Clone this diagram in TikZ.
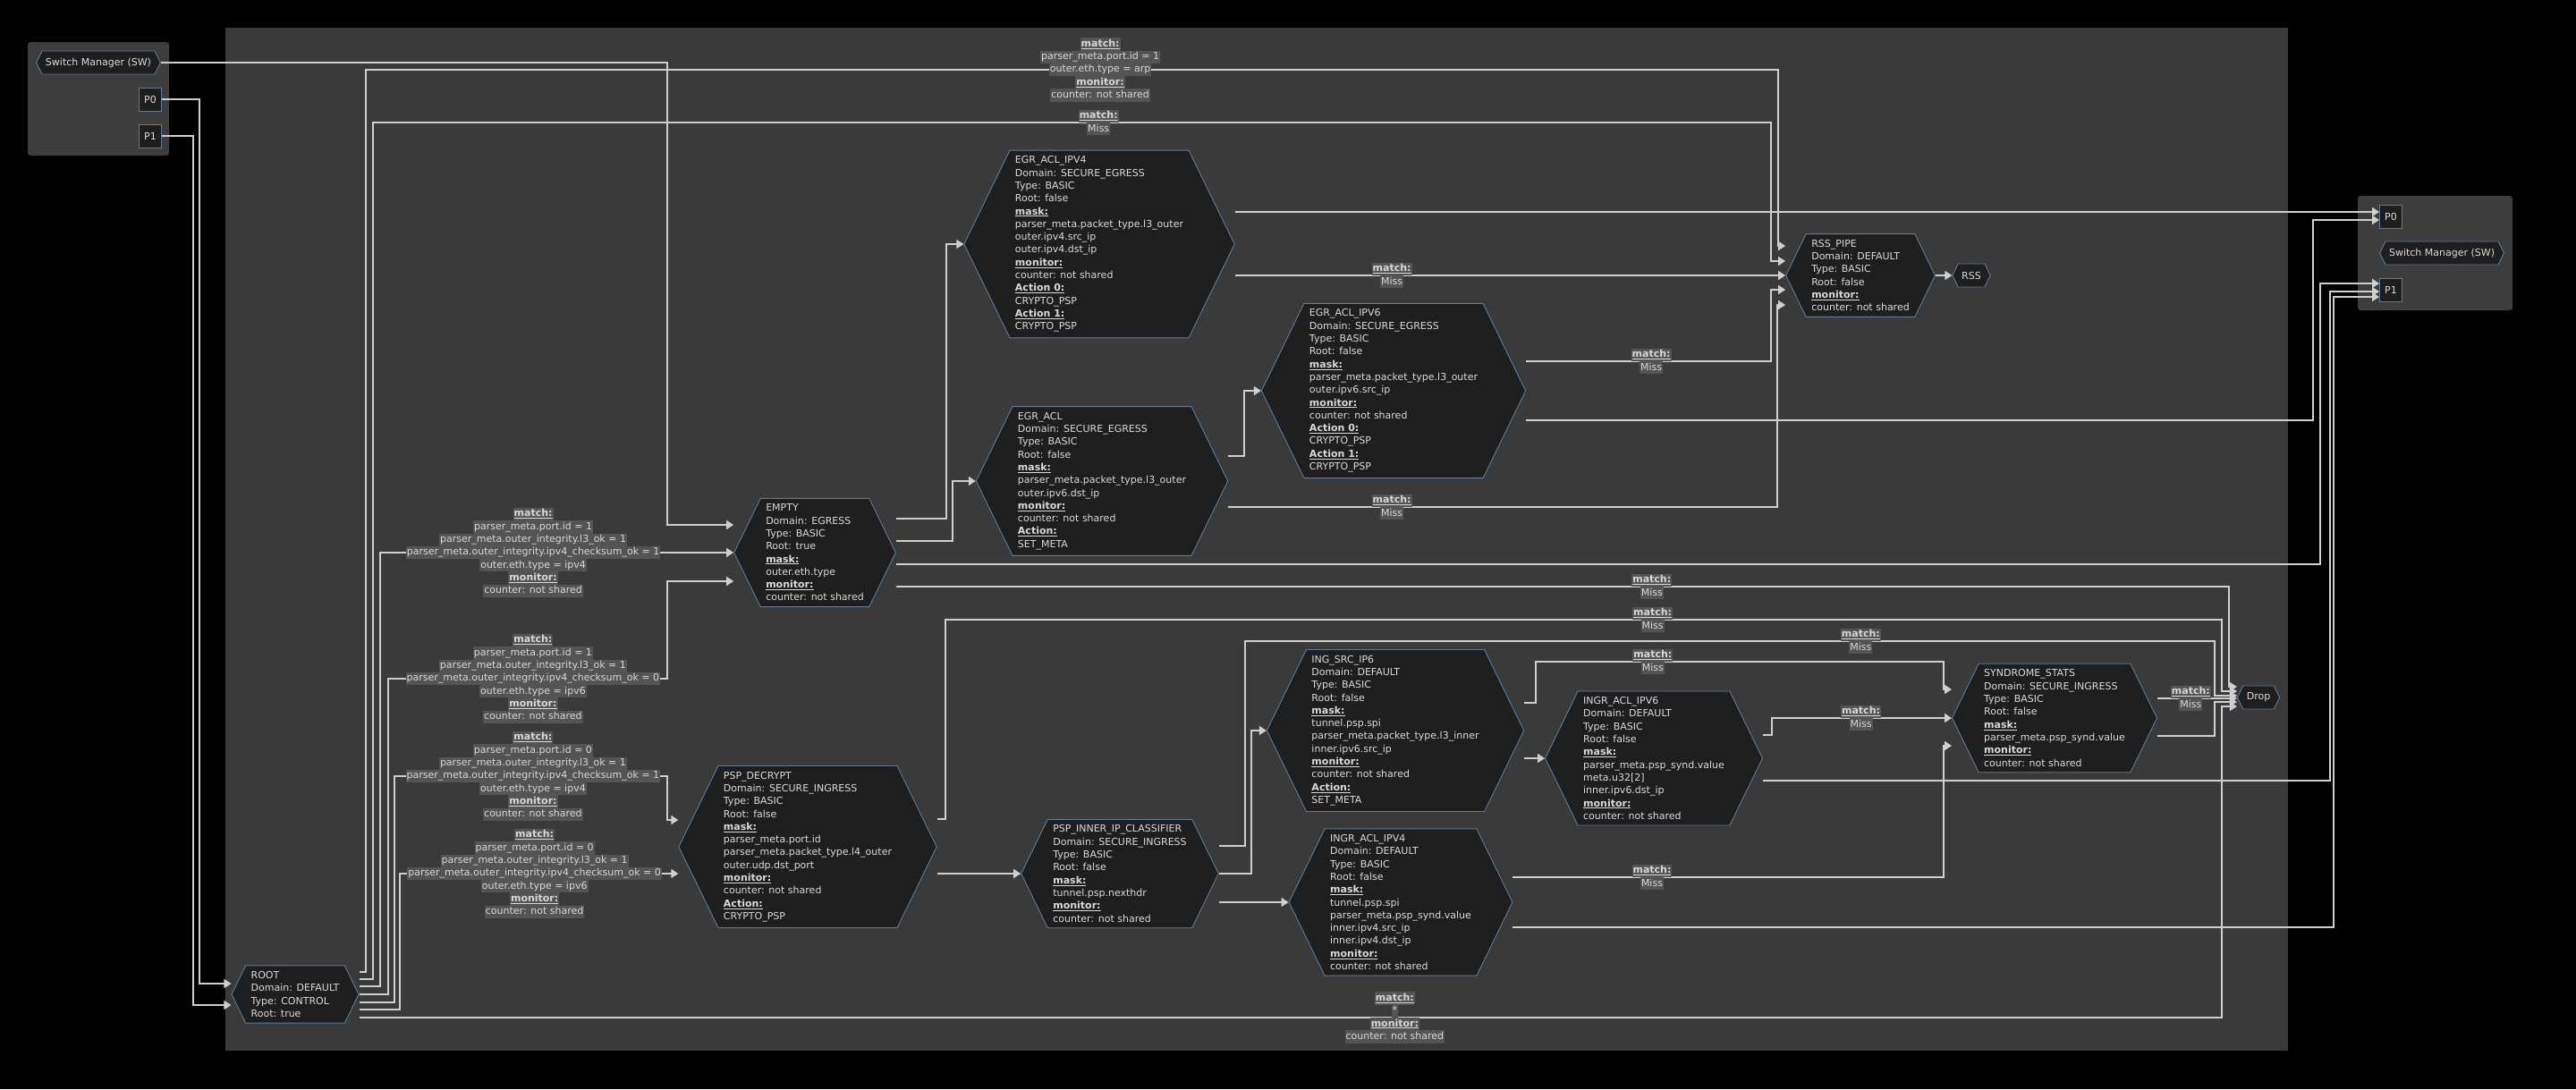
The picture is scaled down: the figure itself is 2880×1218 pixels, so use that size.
\documentclass[tikz,border=0pt]{standalone}
\usepackage{fontspec}
\setmainfont{DejaVu Sans}
\usepackage{tikz}
\usetikzlibrary{shapes.symbols, arrows.meta}

\definecolor{pagebg}{HTML}{000000}
\definecolor{panelbg}{HTML}{3A3A3A}
\definecolor{boxbg}{HTML}{3D3D3D}
\definecolor{tblfill}{HTML}{1E1E1E}
\definecolor{tbledge}{HTML}{5D7C99}
\definecolor{tbltext}{HTML}{DADADA}
\definecolor{wire}{HTML}{CFCFCF}
\definecolor{lblbg}{HTML}{545454}
\definecolor{lbltext}{HTML}{D8D8D8}

\newcommand{\tblfont}{\fontsize{11}{14.3}\selectfont}
\newcommand{\hd}[1]{\textbf{\underline{#1}}}
\newcommand{\lh}[1]{\colorbox{lblbg}{\hspace{1pt}\strut\textbf{\underline{#1}}\hspace{1pt}}}
\newcommand{\lk}[1]{\colorbox{lblbg}{\hspace{1pt}\strut #1\hspace{1pt}}}
\setlength{\fboxsep}{0pt}

\begin{document}
\begin{tikzpicture}[
  x=1pt, y=-1pt,
  tbl/.style={shape=signal, signal to=east and west, signal pointer angle=128,
              draw=tbledge, line width=0.9pt, fill=tblfill, text=tbltext,
              align=left, font=\tblfont, inner xsep=6pt, inner ysep=6.5pt},
  sink/.style={tbl, align=center, inner xsep=4pt, inner ysep=2pt, minimum height=26pt},
  port/.style={rectangle, draw=tbledge, line width=0.9pt, fill=tblfill, text=tbltext,
               font=\tblfont, minimum width=25pt, minimum height=26pt, inner sep=2pt},
  flow/.style={draw=wire, line width=1.6pt, -{Triangle[width=10pt,length=8pt]}},
  lbl/.style={align=center, inner sep=0pt, text=lbltext, font=\tblfont}
]

\useasboundingbox (0,0) rectangle (2880,1218);
\fill[pagebg] (0,0) rectangle (2880,1218);
\fill[panelbg] (252,31) rectangle (2558,1175);
\fill[boxbg, rounded corners=3pt] (31,47) rectangle (189,174);
\fill[boxbg, rounded corners=3pt] (2636,219) rectangle (2809,347);

% switch manager ports
\node[sink] (swL) at (110,70) {Switch Manager (SW)};
\node[port] (p0L) at (168,111) {P0};
\node[port] (p1L) at (168,152) {P1};
\node[sink] (swR) at (2730,283) {Switch Manager (SW)};
\node[port] (p0R) at (2673,242) {P0};
\node[port] (p1R) at (2673,324) {P1};

% tables
\node[tbl] (root) at (330,1112) {ROOT\\Domain: DEFAULT\\Type: CONTROL\\Root: true};

\node[tbl] (empty) at (911,618) {EMPTY\\Domain: EGRESS\\Type: BASIC\\Root: true\\\hd{mask:}\\outer.eth.type\\\hd{monitor:}\\counter: not shared};

\node[tbl] (egrv4) at (1229,273) {EGR\_ACL\_IPV4\\Domain: SECURE\_EGRESS\\Type: BASIC\\Root: false\\\hd{mask:}\\parser\_meta.packet\_type.l3\_outer\\outer.ipv4.src\_ip\\outer.ipv4.dst\_ip\\\hd{monitor:}\\counter: not shared\\\hd{Action 0:}\\CRYPTO\_PSP\\\hd{Action 1:}\\CRYPTO\_PSP};

\node[tbl] (egracl) at (1232,538) {EGR\_ACL\\Domain: SECURE\_EGRESS\\Type: BASIC\\Root: false\\\hd{mask:}\\parser\_meta.packet\_type.l3\_outer\\outer.ipv6.dst\_ip\\\hd{monitor:}\\counter: not shared\\\hd{Action:}\\SET\_META};

\node[tbl] (egrv6) at (1558,437) {EGR\_ACL\_IPV6\\Domain: SECURE\_EGRESS\\Type: BASIC\\Root: false\\\hd{mask:}\\parser\_meta.packet\_type.l3\_outer\\outer.ipv6.src\_ip\\\hd{monitor:}\\counter: not shared\\\hd{Action 0:}\\CRYPTO\_PSP\\\hd{Action 1:}\\CRYPTO\_PSP};

\node[tbl] (rsspipe) at (2080,308) {RSS\_PIPE\\Domain: DEFAULT\\Type: BASIC\\Root: false\\\hd{monitor:}\\counter: not shared};
\node[sink] (rss) at (2204,308) {RSS};

\node[tbl] (pspdec) at (903,947) {PSP\_DECRYPT\\Domain: SECURE\_INGRESS\\Type: BASIC\\Root: false\\\hd{mask:}\\parser\_meta.port.id\\parser\_meta.packet\_type.l4\_outer\\outer.udp.dst\_port\\\hd{monitor:}\\counter: not shared\\\hd{Action:}\\CRYPTO\_PSP};

\node[tbl] (pspinner) at (1252,977) {PSP\_INNER\_IP\_CLASSIFIER\\Domain: SECURE\_INGRESS\\Type: BASIC\\Root: false\\\hd{mask:}\\tunnel.psp.nexthdr\\\hd{monitor:}\\counter: not shared};

\node[tbl] (ingsrc) at (1560,817) {ING\_SRC\_IP6\\Domain: DEFAULT\\Type: BASIC\\Root: false\\\hd{mask:}\\tunnel.psp.spi\\parser\_meta.packet\_type.l3\_inner\\inner.ipv6.src\_ip\\\hd{monitor:}\\counter: not shared\\\hd{Action:}\\SET\_META};

\node[tbl] (ingrv6) at (1849,848) {INGR\_ACL\_IPV6\\Domain: DEFAULT\\Type: BASIC\\Root: false\\\hd{mask:}\\parser\_meta.psp\_synd.value\\meta.u32[2]\\inner.ipv6.dst\_ip\\\hd{monitor:}\\counter: not shared};

\node[tbl] (ingrv4) at (1566,1009) {INGR\_ACL\_IPV4\\Domain: DEFAULT\\Type: BASIC\\Root: false\\\hd{mask:}\\tunnel.psp.spi\\parser\_meta.psp\_synd.value\\inner.ipv4.src\_ip\\inner.ipv4.dst\_ip\\\hd{monitor:}\\counter: not shared};

\node[tbl] (synd) at (2297,803) {SYNDROME\_STATS\\Domain: SECURE\_INGRESS\\Type: BASIC\\Root: false\\\hd{mask:}\\parser\_meta.psp\_synd.value\\\hd{monitor:}\\counter: not shared};
\node[sink] (drop) at (2525,780) {Drop};

% ports into root
\draw[flow] (p0L.east) -| (223,1100) -- (root.west |- 0,1100);
\draw[flow] (p1L.east) -| (216,1124) -- (root.west |- 0,1124);
\draw[flow] (swL.east) -| (746,587) -- (empty.west |- 0,587);

% root
\draw[flow] (root.east |- 0,1087) -| (409,78)
  -- node[lbl, pos=0.52] {\lh{match:}\\\lk{parser\_meta.port.id = 1}\\\lk{outer.eth.type = arp}\\\lh{monitor:}\\\lk{counter: not shared}}
  (1988,78) |- (rsspipe.west |- 0,275);
\draw[flow] (root.east |- 0,1095) -| (417,137)
  -- node[lbl, pos=0.519] {\lh{match:}\\\lk{Miss}} (1980,137) |- (rsspipe.west |- 0,292);
\draw[flow] (root.east |- 0,1103) -| (425,618)
  -- node[lbl, pos=0.433] {\lh{match:}\\\lk{parser\_meta.port.id = 1}\\\lk{parser\_meta.outer\_integrity.l3\_ok = 1}\\\lk{parser\_meta.outer\_integrity.ipv4\_checksum\_ok = 1}\\\lk{outer.eth.type = ipv4}\\\lh{monitor:}\\\lk{counter: not shared}}
  (empty.west);
\draw[flow] (root.east |- 0,1112) -| (434,759)
  -- node[lbl, pos=0.519] {\lh{match:}\\\lk{parser\_meta.port.id = 1}\\\lk{parser\_meta.outer\_integrity.l3\_ok = 1}\\\lk{parser\_meta.outer\_integrity.ipv4\_checksum\_ok = 0}\\\lk{outer.eth.type = ipv6}\\\lh{monitor:}\\\lk{counter: not shared}}
  (746,759) |- (empty.west |- 0,650);
\draw[flow] (root.east |- 0,1121) -| (441,868)
  -- node[lbl, pos=0.508] {\lh{match:}\\\lk{parser\_meta.port.id = 0}\\\lk{parser\_meta.outer\_integrity.l3\_ok = 1}\\\lk{parser\_meta.outer\_integrity.ipv4\_checksum\_ok = 1}\\\lk{outer.eth.type = ipv4}\\\lh{monitor:}\\\lk{counter: not shared}}
  (746,868) |- (pspdec.west |- 0,917);
\draw[flow] (root.east |- 0,1129) -| (447,977)
  -- node[lbl, pos=0.484] {\lh{match:}\\\lk{parser\_meta.port.id = 0}\\\lk{parser\_meta.outer\_integrity.l3\_ok = 1}\\\lk{parser\_meta.outer\_integrity.ipv4\_checksum\_ok = 0}\\\lk{outer.eth.type = ipv6}\\\lh{monitor:}\\\lk{counter: not shared}}
  (pspdec.west |- 0,977);
\draw[flow] (root.east |- 0,1138)
  -- node[lbl, pos=0.556] {\lh{match:}\\\lk{*}\\\lh{monitor:}\\\lk{counter: not shared}}
  (2484,1138) |- (drop.west |- 0,790);

% egress
\draw[flow] (empty.east |- 0,580) -| (1058,273) -- (egrv4.west);
\draw[flow] (empty.east |- 0,605) -| (1065,538) -- (egracl.west);
\draw[flow] (empty.east |- 0,631) -| (2594,317) -- (p1R.west |- 0,317);
\draw[flow] (empty.east |- 0,656)
  -- node[lbl, pos=0.567] {\lh{match:}\\\lk{Miss}} (2492,656) |- (drop.west |- 0,768);
\draw[flow] (egrv4.east |- 0,237) -- (p0R.west |- 0,237);
\draw[flow] (egrv4.east |- 0,308)
  -- node[lbl, pos=0.285] {\lh{match:}\\\lk{Miss}} (rsspipe.west);
\draw[flow] (egracl.east |- 0,510) -| (1391,437) -- (egrv6.west);
\draw[flow] (egracl.east |- 0,567)
  -- node[lbl, pos=0.298] {\lh{match:}\\\lk{Miss}} (1987,567) |- (rsspipe.west |- 0,341);
\draw[flow] (egrv6.east |- 0,404)
  -- node[lbl, pos=0.511] {\lh{match:}\\\lk{Miss}} (1980,404) |- (rsspipe.west |- 0,324);
\draw[flow] (egrv6.east |- 0,470) -| (2586,246) -- (p0R.west |- 0,246);
\draw[flow] (rsspipe.east) -- (rss.west);

% ingress
\draw[flow] (pspdec.east |- 0,916) -| (1057,693)
  -- node[lbl, pos=0.554] {\lh{match:}\\\lk{Miss}} (2484,693) |- (drop.west |- 0,773);
\draw[flow] (pspdec.east |- 0,977) -- (pspinner.west);
\draw[flow] (pspinner.east |- 0,946) -| (1392,717)
  -- node[lbl, pos=0.635] {\lh{match:}\\\lk{Miss}} (2476,717) |- (drop.west |- 0,778);
\draw[flow] (pspinner.east |- 0,977) -| (1399,817) -- (ingsrc.west);
\draw[flow] (pspinner.east |- 0,1009) -- (ingrv4.west);
\draw[flow] (ingsrc.east |- 0,786) -| (1717,740)
  -- node[lbl, pos=0.287] {\lh{match:}\\\lk{Miss}} (2173,740) |- (synd.west |- 0,771);
\draw[flow] (ingsrc.east |- 0,848) -- (ingrv6.west);
\draw[flow] (ingrv6.east |- 0,822) -| (1981,803)
  -- node[lbl, pos=0.495] {\lh{match:}\\\lk{Miss}} (synd.west);
\draw[flow] (ingrv6.east |- 0,873) -| (2605,326) -- (p1R.west |- 0,326);
\draw[flow] (ingrv4.east |- 0,981)
  -- node[lbl, pos=0.323] {\lh{match:}\\\lk{Miss}} (2173,981) |- (synd.west |- 0,834);
\draw[flow] (ingrv4.east |- 0,1037) -| (2609,332) -- (p1R.west |- 0,332);
\draw[flow] (synd.east |- 0,781)
  -- node[lbl, pos=0.42] {\lh{match:}\\\lk{Miss}} (drop.west |- 0,781);
\draw[flow] (synd.east |- 0,823) -| (2476,785) -- (drop.west |- 0,785);

\end{tikzpicture}
\end{document}
